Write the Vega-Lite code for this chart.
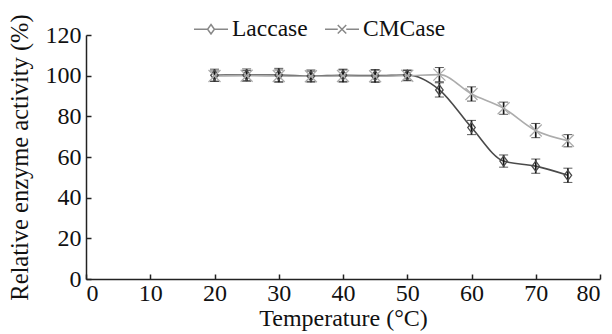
{
  "$schema": "https://vega.github.io/schema/vega-lite/v6.json",
  "width": 514,
  "height": 244,
  "autosize": "none",
  "padding": {"left": 86, "top": 35, "right": 12, "bottom": 55},
  "background": "white",
  "config": {
    "view": {"stroke": null},
    "font": "Liberation Serif",
    "axis": {
      "grid": false,
      "labelFont": "Liberation Serif",
      "labelFontSize": 24,
      "labelColor": "#111",
      "titleFont": "Liberation Serif",
      "titleFontSize": 24,
      "titleFontWeight": "normal",
      "titleColor": "#111",
      "domainColor": "#222",
      "domainWidth": 1.5,
      "tickColor": "#222",
      "tickWidth": 1.5,
      "tickSize": -5
    },
    "legend": {
      "orient": "none",
      "legendX": 107,
      "legendY": -24,
      "direction": "horizontal",
      "title": null,
      "labelFont": "Liberation Serif",
      "labelFontSize": 23.5,
      "labelColor": "#111",
      "labelOffset": 3,
      "columnPadding": 14,
      "symbolSize": 1156,
      "symbolStrokeWidth": 1.5,
      "symbolFillColor": "transparent",
      "padding": 0
    }
  },
  "data": {
    "values": [
      {"series": "Laccase", "temp": 20, "value": 100.2, "err": 3},
      {"series": "Laccase", "temp": 25, "value": 100.3, "err": 3},
      {"series": "Laccase", "temp": 30, "value": 100.3, "err": 3.3},
      {"series": "Laccase", "temp": 35, "value": 99.8, "err": 3},
      {"series": "Laccase", "temp": 40, "value": 100.2, "err": 3},
      {"series": "Laccase", "temp": 45, "value": 100.0, "err": 3},
      {"series": "Laccase", "temp": 50, "value": 100.3, "err": 2.5},
      {"series": "Laccase", "temp": 55, "value": 93, "err": 3.5},
      {"series": "Laccase", "temp": 60, "value": 74.5, "err": 3.5},
      {"series": "Laccase", "temp": 65, "value": 58, "err": 3},
      {"series": "Laccase", "temp": 70, "value": 55.5, "err": 3.5},
      {"series": "Laccase", "temp": 75, "value": 51, "err": 3.5},
      {"series": "CMCase", "temp": 20, "value": 99.8, "err": 2.5},
      {"series": "CMCase", "temp": 25, "value": 100, "err": 2.5},
      {"series": "CMCase", "temp": 30, "value": 99.8, "err": 3},
      {"series": "CMCase", "temp": 35, "value": 99.7, "err": 2.5},
      {"series": "CMCase", "temp": 40, "value": 99.8, "err": 3},
      {"series": "CMCase", "temp": 45, "value": 99.7, "err": 3},
      {"series": "CMCase", "temp": 50, "value": 100, "err": 2.5},
      {"series": "CMCase", "temp": 55, "value": 100.5, "err": 3.5},
      {"series": "CMCase", "temp": 60, "value": 91, "err": 3.5},
      {"series": "CMCase", "temp": 65, "value": 84, "err": 3},
      {"series": "CMCase", "temp": 70, "value": 73, "err": 3.5},
      {"series": "CMCase", "temp": 75, "value": 68, "err": 3}
    ]
  },
  "encoding": {
    "x": {
      "field": "temp",
      "type": "quantitative",
      "scale": {"domain": [0, 80], "nice": false},
      "axis": {"values": [0, 10, 20, 30, 40, 50, 60, 70, 80], "title": "Temperature (°C)", "titlePadding": 1, "labelPadding": 7}
    },
    "y": {
      "field": "value",
      "type": "quantitative",
      "scale": {"domain": [0, 120], "nice": false},
      "axis": {"values": [0, 20, 40, 60, 80, 100, 120], "title": "Relative enzyme activity (%)", "titleFontSize": 24.5, "titlePadding": 13, "labelPadding": 10}
    }
  },
  "layer": [
    {
      "mark": {"type": "line", "interpolate": "monotone", "strokeWidth": 1.6},
      "encoding": {
        "color": {
          "field": "series",
          "type": "nominal",
          "scale": {"domain": ["Laccase", "CMCase"], "range": ["#4a4a4a", "#acacac"]},
          "legend": null
        }
      }
    },
    {
      "mark": {
        "type": "errorbar",
        "color": "#151515",
        "ticks": {"size": 9, "strokeWidth": 2, "color": "#151515"},
        "rule": {"strokeWidth": 1.7}
      },
      "encoding": {
        "yError": {"field": "err"},
        "detail": {"field": "series"}
      }
    },
    {
      "mark": {"type": "point", "filled": false, "size": 100, "strokeWidth": 1.3, "opacity": 1},
      "encoding": {
        "color": {"field": "series", "type": "nominal", "legend": null},
        "shape": {
          "field": "series",
          "type": "nominal",
          "scale": {"domain": ["Laccase", "CMCase"], "range": ["M0,-1L0.75,0L0,1L-0.75,0Z", "M-1.2,-1.2L1.2,1.2M-1.2,1.2L1.2,-1.2"]},
          "legend": null
        }
      }
    },
    {
      "transform": [{"filter": "datum.value > 1000"}],
      "mark": {"type": "point", "filled": false, "size": 1156, "strokeWidth": 1.5, "opacity": 1},
      "encoding": {
        "color": {"field": "series", "type": "nominal", "legend": {}},
        "shape": {
          "field": "series",
          "type": "nominal",
          "scale": {"domain": ["Laccase", "CMCase"], "range": ["M-1,0L-0.2,0M0.2,0L1,0M0,-0.28L0.2,0L0,0.28L-0.2,0Z", "M-1,0L-0.25,0M0.25,0L1,0M-0.25,-0.25L0.25,0.25M-0.25,0.25L0.25,-0.25"]},
          "legend": {}
        }
      }
    }
  ],
  "resolve": {"scale": {"shape": "independent"}}
}
